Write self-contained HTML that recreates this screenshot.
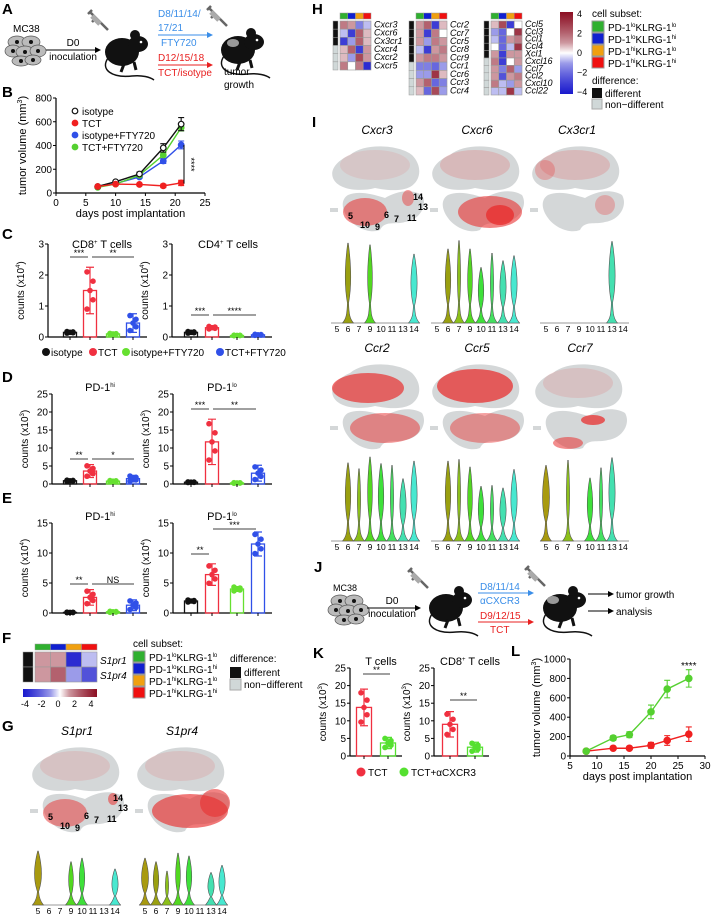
<!DOCTYPE html>
<html><head><meta charset="utf-8">
<style>
html,body{margin:0;padding:0;background:#fff;}
svg{display:block;font-family:"Liberation Sans",Arial,sans-serif;}
.pl{font-weight:bold;font-size:15px;}
.tk{font-size:10px;}
.it{font-style:italic;}
</style></head>
<body>
<svg id="fig" width="712" height="916" viewBox="0 0 712 916" xmlns="http://www.w3.org/2000/svg">
<defs>
<marker id="ab" markerWidth="6" markerHeight="6" refX="5" refY="3" orient="auto"><path d="M0,0 L6,3 L0,6z" fill="#000"/></marker>
<marker id="abl" markerWidth="6" markerHeight="6" refX="5" refY="3" orient="auto"><path d="M0,0 L6,3 L0,6z" fill="#3a8ee8"/></marker>
<marker id="ar" markerWidth="6" markerHeight="6" refX="5" refY="3" orient="auto"><path d="M0,0 L6,3 L0,6z" fill="#e82020"/></marker>
<g id="mouse">
<ellipse cx="20" cy="30" rx="17" ry="14" fill="#111"/>
<ellipse cx="36" cy="22" rx="10" ry="8" fill="#111"/>
<circle cx="33" cy="13" r="5" fill="#111"/>
<circle cx="39" cy="20" r="1.3" fill="#fff"/>
<path d="M6,36 C-2,48 10,56 30,54 C40,53 48,55 52,58" stroke="#111" stroke-width="1.5" fill="none"/>
<path d="M22,42 l-3,8 M32,40 l2,8" stroke="#111" stroke-width="3"/>
</g>
<g id="syringe">
<path d="M0,0 L4,-4 M2,-2 L14,10 M8,4 L4,8 M14,10 L20,16" stroke="#666" stroke-width="2.5" fill="none"/>
<path d="M4,2 L12,10" stroke="#aaa" stroke-width="5"/>
</g>
<g id="cells">
<ellipse cx="10" cy="8" rx="9" ry="6" fill="#bbb" stroke="#555" stroke-width=".7"/>
<ellipse cx="24" cy="8" rx="9" ry="6" fill="#bbb" stroke="#555" stroke-width=".7"/>
<ellipse cx="6" cy="17" rx="8" ry="6" fill="#bbb" stroke="#555" stroke-width=".7"/>
<ellipse cx="18" cy="18" rx="9" ry="6" fill="#bbb" stroke="#555" stroke-width=".7"/>
<ellipse cx="31" cy="17" rx="8" ry="6" fill="#bbb" stroke="#555" stroke-width=".7"/>
<ellipse cx="14" cy="27" rx="9" ry="5" fill="#bbb" stroke="#555" stroke-width=".7"/>
<ellipse cx="26" cy="26" rx="8" ry="5" fill="#bbb" stroke="#555" stroke-width=".7"/>
<circle cx="10" cy="8" r="2" fill="#111"/><circle cx="24" cy="8" r="2" fill="#111"/><circle cx="18" cy="18" r="2" fill="#111"/><circle cx="6" cy="17" r="2" fill="#111"/><circle cx="31" cy="17" r="2" fill="#111"/><circle cx="14" cy="27" r="2" fill="#111"/><circle cx="26" cy="26" r="2" fill="#111"/>
</g>
<g id="blob">
<path d="M20,15 C35,2 70,5 82,15 C92,25 92,40 80,47 C70,52 55,50 45,48 C30,52 10,50 4,40 C-2,30 8,20 20,15z" fill="#d4d7d8"/>
<path d="M18,55 C30,50 45,55 55,58 C65,52 80,48 92,55 C98,65 90,80 75,82 C65,85 55,80 50,90 C40,94 25,88 18,78 C12,70 10,60 18,55z" fill="#d4d7d8"/>
<rect x="0" y="68" width="8" height="4" fill="#d4d7d8"/>
</g>
</defs>

<!-- Panel A -->
<text class="pl" x="2" y="14">A</text>
<text x="13" y="32" font-size="10">MC38</text>
<use href="#cells" x="7" y="34"/>
<line x1="46" y1="50" x2="100" y2="50" stroke="#000" marker-end="url(#ab)"/>
<text x="73" y="46" font-size="10" text-anchor="middle">D0</text>
<text x="73" y="60" font-size="10" text-anchor="middle">inoculation</text>
<use href="#syringe" x="88" y="14"/>
<use href="#mouse" x="102" y="22"/>
<text x="158" y="17" font-size="10" fill="#3a8ee8">D8/11/14/</text>
<text x="158" y="31" font-size="10" fill="#3a8ee8">17/21</text>
<line x1="158" y1="35" x2="212" y2="35" stroke="#3a8ee8" marker-end="url(#abl)"/>
<text x="161" y="46" font-size="10" fill="#3a8ee8">FTY720</text>
<text x="158" y="61" font-size="10" fill="#e82020">D12/15/18</text>
<line x1="158" y1="65" x2="212" y2="65" stroke="#e82020" marker-end="url(#ar)"/>
<text x="158" y="76" font-size="10" fill="#e82020">TCT/isotype</text>
<use href="#syringe" x="207" y="10"/>
<use href="#mouse" x="218" y="20"/>
<ellipse cx="233" cy="43" rx="6" ry="4" fill="#999"/>
<text x="224" y="75" font-size="10">tumor</text>
<text x="224" y="88" font-size="10">growth</text>

<!-- Panel labels -->
<text class="pl" x="2" y="97">B</text>
<text class="pl" x="2" y="239">C</text>
<text class="pl" x="2" y="382">D</text>
<text class="pl" x="2" y="503">E</text>
<text class="pl" x="2" y="643">F</text>
<text class="pl" x="2" y="731">G</text>
<text class="pl" x="312" y="14">H</text>
<text class="pl" x="312" y="127">I</text>
<text class="pl" x="314" y="572">J</text>
<text class="pl" x="313" y="658">K</text>
<text class="pl" x="511" y="656">L</text>

<!-- Panel C legend -->
<g font-size="10">
<circle cx="46" cy="352" r="4" fill="#111"/><text x="51" y="356">isotype</text>
<circle cx="93" cy="352" r="4" fill="#f03040"/><text x="98" y="356">TCT</text>
<circle cx="126" cy="352" r="4" fill="#66e030"/><text x="131" y="356">isotype+FTY720</text>
<circle cx="220" cy="352" r="4" fill="#3050e8"/><text x="225" y="356">TCT+FTY720</text>
</g>

<!-- Panel F legend -->
<text x="133" y="647" font-size="10">cell subset:</text>
<g font-size="10">
<rect x="133" y="651" width="12" height="11" fill="#30b030" stroke="#999"/><text x="149" y="661">PD-1<tspan font-size="6" dy="-4">lo</tspan><tspan dy="4">KLRG-1</tspan><tspan font-size="6" dy="-4">lo</tspan></text>
<rect x="133" y="663" width="12" height="11" fill="#1020d0" stroke="#999"/><text x="149" y="673">PD-1<tspan font-size="6" dy="-4">lo</tspan><tspan dy="4">KLRG-1</tspan><tspan font-size="6" dy="-4">hi</tspan></text>
<rect x="133" y="675" width="12" height="11" fill="#f0a010" stroke="#999"/><text x="149" y="685">PD-1<tspan font-size="6" dy="-4">hi</tspan><tspan dy="4">KLRG-1</tspan><tspan font-size="6" dy="-4">lo</tspan></text>
<rect x="133" y="687" width="12" height="11" fill="#f01010" stroke="#999"/><text x="149" y="697">PD-1<tspan font-size="6" dy="-4">hi</tspan><tspan dy="4">KLRG-1</tspan><tspan font-size="6" dy="-4">hi</tspan></text>
<text x="230" y="662">difference:</text>
<rect x="230" y="667" width="11" height="11" fill="#111"/><text x="244" y="676">different</text>
<rect x="230" y="679" width="11" height="11" fill="#d0d8d8" stroke="#aaa"/><text x="244" y="688">non−different</text>
</g>

<!-- Panel H legend -->
<text x="592" y="17" font-size="10">cell subset:</text>
<g font-size="10">
<rect x="592" y="21" width="12" height="11" fill="#30b030" stroke="#999"/><text x="608" y="31">PD-1<tspan font-size="6" dy="-4">lo</tspan><tspan dy="4">KLRG-1</tspan><tspan font-size="6" dy="-4">lo</tspan></text>
<rect x="592" y="33" width="12" height="11" fill="#1020d0" stroke="#999"/><text x="608" y="43">PD-1<tspan font-size="6" dy="-4">lo</tspan><tspan dy="4">KLRG-1</tspan><tspan font-size="6" dy="-4">hi</tspan></text>
<rect x="592" y="45" width="12" height="11" fill="#f0a010" stroke="#999"/><text x="608" y="55">PD-1<tspan font-size="6" dy="-4">hi</tspan><tspan dy="4">KLRG-1</tspan><tspan font-size="6" dy="-4">lo</tspan></text>
<rect x="592" y="57" width="12" height="11" fill="#f01010" stroke="#999"/><text x="608" y="67">PD-1<tspan font-size="6" dy="-4">hi</tspan><tspan dy="4">KLRG-1</tspan><tspan font-size="6" dy="-4">hi</tspan></text>
<text x="592" y="84">difference:</text>
<rect x="592" y="88" width="10" height="10" fill="#111"/><text x="605" y="97">different</text>
<rect x="592" y="99" width="10" height="10" fill="#d0d8d8" stroke="#aaa"/><text x="605" y="108">non−different</text>
</g>

<!-- Panel J -->
<text x="333" y="591" font-size="9">MC38</text>
<use href="#cells" x="330" y="593"/>
<line x1="367" y1="608" x2="420" y2="608" stroke="#000" marker-end="url(#ab)"/>
<text x="392" y="604" font-size="10" text-anchor="middle">D0</text>
<text x="392" y="617" font-size="10" text-anchor="middle">inoculation</text>
<use href="#syringe" x="408" y="572"/>
<use href="#mouse" x="426" y="578"/>
<text x="480" y="590" font-size="10" fill="#3a8ee8">D8/11/14</text>
<line x1="478" y1="593" x2="533" y2="593" stroke="#3a8ee8" marker-end="url(#abl)"/>
<text x="480" y="604" font-size="10" fill="#3a8ee8">αCXCR3</text>
<text x="480" y="619" font-size="10" fill="#e82020">D9/12/15</text>
<line x1="478" y1="622" x2="533" y2="622" stroke="#e82020" marker-end="url(#ar)"/>
<text x="490" y="633" font-size="10" fill="#e82020">TCT</text>
<use href="#syringe" x="525" y="570"/>
<use href="#mouse" x="540" y="578"/>
<ellipse cx="553" cy="600" rx="6" ry="4" fill="#999"/>
<line x1="588" y1="594" x2="613" y2="594" stroke="#000" marker-end="url(#ab)"/>
<line x1="588" y1="611" x2="613" y2="611" stroke="#000" marker-end="url(#ab)"/>
<text x="616" y="598" font-size="10">tumor growth</text>
<text x="616" y="615" font-size="10">analysis</text>

<!-- Panel K legend -->
<g font-size="10">
<circle cx="361" cy="772" r="4.5" fill="#f03040"/><text x="368" y="776">TCT</text>
<circle cx="404" cy="772" r="4.5" fill="#55e030"/><text x="411" y="776">TCT+αCXCR3</text>
</g>
</svg>

<script>
const NS='http://www.w3.org/2000/svg';
const svg=document.getElementById('fig');
function mk(tag,attrs,parent,txt){const e=document.createElementNS(NS,tag);for(const k in attrs)e.setAttribute(k,attrs[k]);if(txt!==undefined)e.textContent=txt;(parent||svg).appendChild(e);return e;}

// ---------- Panel B data ----------
const bDays=[7,10,14,18,21];
const bIsotype=[55,95,160,380,580];
const bTCT=[55,75,72,60,85];
const bIsoFTY=[50,80,135,270,405];
const bTCTFTY=[48,75,150,320,550];
const bErr=[8,10,15,35,55];
const bXTicks=[0,5,10,15,20,25];
const bYTicks=[0,200,400,600,800];

// ---------- Panel C/D/E data ----------
const groupColors=['#111111','#f03040','#66e030','#3050e8'];
const cCD8Means=[0.15,1.5,0.1,0.45];
const cCD8Sd=[0.03,0.75,0.02,0.3];
const cCD4Means=[0.15,0.3,0.05,0.07];
const cCD4Sd=[0.03,0.05,0.01,0.02];
const dHiMeans=[0.9,3.6,0.8,1.5];
const dHiSd=[0.2,1.8,0.2,0.9];
const dLoMeans=[0.5,11.7,0.3,3.0];
const dLoSd=[0.1,6.3,0.1,2.2];
const eHiMeans=[0.1,2.6,0.2,1.3];
const eHiSd=[0.05,1.3,0.1,0.9];
const eLoMeans=[2.0,6.4,4.0,11.5];
const eLoSd=[0.2,1.8,0.4,2.0];
const cTicks=[0,1,2,3];
const dTicks=[0,5,10,15,20,25];
const eTicks=[0,5,10,15];

// ---------- Panel K/L data ----------
const kTMeans=[13.8,3.7];
const kTSd=[5.2,1.6];
const kCD8Means=[9.0,2.5];
const kCD8Sd=[3.6,1.4];
const kTicks=[0,5,10,15,20,25];
const lDays=[8,13,16,20,23,27];
const lTCT=[50,80,80,110,160,225];
const lTCTa=[50,185,220,455,690,800];
const lErrR=[10,12,12,30,50,75];
const lErrG=[10,25,30,70,90,90];
const lXTicks=[5,10,15,20,25,30];
const lYTicks=[0,200,400,600,800,1000];

// ---------- Heatmap data ----------
const hGenes1=['Cxcr3','Cxcr6','Cx3cr1','Cxcr4','Cxcr2','Cxcr5'];
const hVals1=[[1.5,1,-1.5,-0.5],[-0.5,-3,2,0.5],[-3,-1,2,0.5],[0.5,2,-3,1],[0.5,-1,2.5,1],[1.5,0,1.5,-3.5]];
const hDiff1=[1,1,1,0,0,0];
const hGenes2=['Ccr2','Ccr7','Ccr5','Ccr8','Ccr9','Ccr1','Ccr6','Ccr3','Ccr4'];
const hVals2=[[1,2,-3,0.5],[1,-3,1.5,0],[1,-1,1.5,1],[-0.5,-3,1,1.5],[1,1.5,1.5,1],[-1.5,-1.5,-2,-1],[-1,-1,3,0.5],[1,2,-2,-1.5],[0.5,-2,2.5,-1]];
const hDiff2=[1,1,1,1,1,0,0,0,0];
const hGenes3=['Ccl5','Ccl3','Ccl1','Ccl4','Xcl1','Cxcl16','Ccl7','Ccl2','Cxcl10','Ccl22'];
const hVals3=[[0.5,2.5,-3,0],[-1,-2,0,3],[-0.5,-2,1,1.5],[0,-2,-0.5,3],[1,-3,1,1],[1.5,-3,0,1],[1,-1.5,2,-1],[1,-2.5,1,1.5],[1.5,-0.5,-1,1],[-0.5,-0.5,3,-0.5]];
const hDiff3=[1,1,1,1,1,0,0,0,0,0];
const fGenes=['S1pr1','S1pr4'];
const fVals=[[1,1,-3.5,-0.5],[1,2,-1,-2.5]];
const fDiff=[1,1];
const subsetColors=['#30b030','#1020d0','#f0a010','#f01010'];

// ---------- Violin data (cluster order 5,6,7,9,10,11,13,14), heights 0..1 ----------
const clusters=['5','6','7','9','10','11','13','14'];
const vS1pr1=[0.75,0,0,0.6,0.65,0,0,0.5];
const vS1pr4=[0.65,0.6,0.47,0.72,0.68,0,0.45,0.55];
const vCxcr3=[0,0.95,0,0.93,0,0,0,0.82];
const vCxcr6=[0,0.88,0.98,0.88,0.66,0.83,0.74,0.8];
const vCx3cr1=[0,0,0,0,0,0,0.97,0];
const vCcr2=[0,0.93,0.86,1.0,0.92,0.9,0.74,0.95];
const vCcr5=[0,0.95,0.97,0.88,0.65,0.66,0.63,0.85];
const vCcr7=[0.9,0,0.96,0,0.75,0.87,0.99,0];
const vBulge=[0.9,0.7,0.4,0.6,0.7,0.4,0.8,0.8];
const clusterColors=['#a89a10','#9aa010','#8cc01a','#52d820','#3ee03a','#44e060','#44e0b0','#48e8d0'];

// ---------- helpers ----------
function lin(d0,d1,r0,r1){return v=>r0+(v-d0)*(r1-r0)/(d1-d0);}
function yAxis(x,y0,y1,ticks,sc,g){
  const a=mk('line',{x1:x,y1:y0,x2:x,y2:y1,stroke:'#000','stroke-width':1.2},g);
  
  
  ticks.forEach(t=>{const y=sc(t);
    const l=mk('line',{x1:x-3,y1:y,x2:x,y2:y,stroke:'#000'},g);
    
    
    const tx=mk('text',{x:x-4,y:y+3.5,'text-anchor':'end','font-size':10},g,t);
    
    });
}
function xAxis(y,x0,x1,ticks,sc,g){
  const a=mk('line',{x1:x0,y1:y,x2:x1,y2:y,stroke:'#000','stroke-width':1.2},g);
  
  
  ticks.forEach(t=>{const x=sc(t);
    const l=mk('line',{x1:x,y1:y,x2:x,y2:y+3,stroke:'#000'},g);
    
    
    const tx=mk('text',{x:x,y:y+13,'text-anchor':'middle','font-size':10},g,t);
    
    });
}
function vtitle(x,y,txt,sup,g){
  const t=mk('text',{x:0,y:0,'font-size':10,'text-anchor':'middle',transform:`translate(${x},${y}) rotate(-90)`},g);
  
  
  t.innerHTML=txt+(sup?`<tspan font-size="6" dy="-4">${sup}</tspan><tspan dy="4">)</tspan>`:'');
}
function sig(x1,x2,y,txt,g){
  const l=mk('line',{x1,y1:y,x2,y2:y,stroke:'#000','stroke-width':0.8},g);
  
  
  const t=mk('text',{x:(x1+x2)/2,y:y-1,'text-anchor':'middle','font-size':9},g,txt);
  
  
}

function barChart(o){
  const g=mk('g',{});
  
  
  const sc=lin(0,o.max,o.y0,o.yTop);
  yAxis(o.ax,o.y0,o.yTop,o.ticks,sc,g);
  const xa=mk('line',{x1:o.ax,y1:o.y0,x2:o.xs[o.xs.length-1]+14,y2:o.y0,stroke:'#000','stroke-width':1.2},g);
  
  
  o.means.forEach((m,i)=>{
    const x=o.xs[i],c=o.colors[i],w=o.bw||13;
    const r=mk('rect',{x:x-w/2,y:sc(m),width:w,height:o.y0-sc(m),fill:'none',stroke:c,'stroke-width':1.3},g);
    
    
    const e=mk('path',{d:`M${x},${sc(m)} V${sc(m+o.sd[i])} M${x-4},${sc(m+o.sd[i])} H${x+4} M${x},${sc(m)} V${sc(Math.max(0,m-o.sd[i]))} M${x-4},${sc(Math.max(0,m-o.sd[i]))} H${x+4}`,stroke:c,'stroke-width':1.2,fill:'none'},g);
    
    
    const offs=[-0.8,-0.4,0,0.4,0.8];
    offs.forEach((f,j)=>{
      const v=Math.max(0,m+f*o.sd[i]);
      const d=mk('circle',{cx:x+(j%2?3:-3)*(j===2?0:1),cy:sc(v),r:2.8,fill:c},g);
      
      
    });
    const tk=mk('line',{x1:x,y1:o.y0,x2:x,y2:o.y0+3,stroke:'#000'},g);
    
    
  });
  if(o.title){const t=mk('text',{x:o.tx,y:o.ty,'text-anchor':'middle','font-size':11},g);
    
    
    t.innerHTML=o.title;}
  vtitle(o.ax-24,(o.y0+o.yTop)/2,o.ylab,o.sup,g);
  (o.sigs||[]).forEach(s=>sig(s[0],s[1],s[2],s[3],g));
}

// Panel C
barChart({name:'cd8-chart',ax:48,y0:337,yTop:244,max:3,ticks:cTicks,xs:[70,90,113,133],means:cCD8Means,sd:cCD8Sd,colors:groupColors,title:'CD8<tspan font-size="6" dy="-4">+</tspan><tspan dy="4"> T cells</tspan>',tx:102,ty:248,ylab:'counts (x10',sup:'4',sigs:[[70,88,257,'***'],[92,134,257,'**']]});
barChart({name:'cd4-chart',ax:172,y0:337,yTop:244,max:3,ticks:cTicks,xs:[191,212,237,258],means:cCD4Means,sd:cCD4Sd,colors:groupColors,title:'CD4<tspan font-size="6" dy="-4">+</tspan><tspan dy="4"> T cells</tspan>',tx:228,ty:248,ylab:'counts (x10',sup:'4',sigs:[[191,209,315,'***'],[213,256,315,'****']]});
// Panel D
barChart({name:'pd1hi-count-chart-d',ax:52,y0:484,yTop:394,max:25,ticks:dTicks,xs:[70,90,113,133],means:dHiMeans,sd:dHiSd,colors:groupColors,title:'PD-1<tspan font-size="6" dy="-4">hi</tspan>',tx:100,ty:391,ylab:'counts (x10',sup:'3',sigs:[[70,88,459,'**'],[92,134,459,'*']]});
barChart({name:'pd1lo-count-chart-d',ax:173,y0:484,yTop:394,max:25,ticks:dTicks,xs:[191,212,237,258],means:dLoMeans,sd:dLoSd,colors:groupColors,title:'PD-1<tspan font-size="6" dy="-4">lo</tspan>',tx:222,ty:391,ylab:'counts (x10',sup:'3',sigs:[[191,209,409,'***'],[213,256,409,'**']]});
// Panel E
barChart({name:'pd1hi-count-chart-e',ax:52,y0:613,yTop:523,max:15,ticks:eTicks,xs:[70,90,113,133],means:eHiMeans,sd:eHiSd,colors:groupColors,title:'PD-1<tspan font-size="6" dy="-4">hi</tspan>',tx:100,ty:520,ylab:'counts (x10',sup:'4',sigs:[[70,88,584,'**'],[92,134,584,'NS']]});
barChart({name:'pd1lo-count-chart-e',ax:173,y0:613,yTop:523,max:15,ticks:eTicks,xs:[191,212,237,258],means:eLoMeans,sd:eLoSd,colors:groupColors,title:'PD-1<tspan font-size="6" dy="-4">lo</tspan>',tx:222,ty:520,ylab:'counts (x10',sup:'4',sigs:[[191,209,554,'**'],[213,256,529,'***']]});
// Panel K
barChart({name:'t-cells-chart-k',ax:350,y0:756,yTop:668,max:25,ticks:kTicks,xs:[364,388],means:kTMeans,sd:kTSd,colors:['#f03040','#55e030'],bw:15,title:'T cells',tx:381,ty:665,ylab:'counts (x10',sup:'3',sigs:[[363,390,674,'**']]});
barChart({name:'cd8-cells-chart-k',ax:434,y0:756,yTop:668,max:25,ticks:kTicks,xs:[450,475],means:kCD8Means,sd:kCD8Sd,colors:['#f03040','#55e030'],bw:15,title:'CD8<tspan font-size="6" dy="-4">+</tspan><tspan dy="4"> T cells</tspan>',tx:470,ty:665,ylab:'counts (x10',sup:'3',sigs:[[450,477,700,'**']]});

// Line charts
function lineChart(o){
  const g=mk('g',{});
  
  
  const sx=lin(o.xd[0],o.xd[1],o.x0,o.x1), sy=lin(0,o.ymax,o.y0,o.yTop);
  yAxis(o.x0,o.y0,o.yTop,o.yticks,sy,g);
  xAxis(o.y0,o.x0,o.x1,o.xticks,sx,g);
  o.series.forEach(s=>{
    const p=mk('polyline',{points:o.days.map((d,i)=>sx(d)+','+sy(s.v[i])).join(' '),fill:'none',stroke:s.c,'stroke-width':1.4},g);
    
    
    o.days.forEach((d,i)=>{
      if(s.e){const e=mk('path',{d:`M${sx(d)},${sy(s.v[i]-s.e[i])} V${sy(s.v[i]+s.e[i])} M${sx(d)-3},${sy(s.v[i]+s.e[i])} h6 M${sx(d)-3},${sy(s.v[i]-s.e[i])} h6`,stroke:s.c,'stroke-width':1.1},g);
        
        }
      const c=mk('circle',{cx:sx(d),cy:sy(s.v[i]),r:s.r||2.8,fill:s.open?'#fff':s.c,stroke:s.c,'stroke-width':1.2},g);
      
      
    });
  });
  const xt=mk('text',{x:(o.x0+o.x1)/2,y:o.y0+24,'text-anchor':'middle','font-size':11},g,'days post implantation');
  
  
  const t=mk('text',{x:0,y:0,'font-size':11,'text-anchor':'middle',transform:`translate(${o.x0-30},${(o.y0+o.yTop)/2}) rotate(-90)`},g);
  
  
  t.innerHTML='tumor volume (mm<tspan font-size="7" dy="-4">3</tspan><tspan dy="4">)</tspan>';
  return {sx,sy,g};
}
const B=lineChart({name:'tumor-growth-chart-b',x0:56,x1:205,y0:193,yTop:98,xd:[0,25],ymax:800,xticks:bXTicks,yticks:bYTicks,days:bDays,series:[
 {n:'isotype-fty720',v:bIsoFTY,c:'#3050e8',e:bErr.map(x=>x*0.6)},
 {n:'tct-fty720',v:bTCTFTY,c:'#55d030',e:bErr.map(x=>x*0.5)},
 {n:'isotype',v:bIsotype,c:'#111',open:true,e:bErr},
 {n:'tct',v:bTCT,c:'#f02020',e:bErr.map(x=>x*0.4)}]});
const sb=mk('line',{x1:184,y1:B.sy(405),x2:184,y2:B.sy(80),stroke:'#000'},B.g);


const st=mk('text',{x:0,y:0,'font-size':9,transform:`translate(188,${B.sy(240)}) rotate(90)`,'text-anchor':'middle'},B.g,'****');


[['isotype','#111',true],['TCT','#f02020'],['isotype+FTY720','#3050e8'],['TCT+FTY720','#55d030']].forEach((l,i)=>{
  const c=mk('circle',{cx:75,cy:111+i*12,r:2.8,fill:l[2]?'#fff':l[1],stroke:l[1],'stroke-width':1.2},B.g);
  
  
  const t=mk('text',{x:82,y:115+i*12,'font-size':10},B.g,l[0]);
  
  
});
const L=lineChart({name:'tumor-growth-chart-l',x0:570,x1:705,y0:756,yTop:659,xd:[5,30],ymax:1000,xticks:lXTicks,yticks:lYTicks,days:lDays,series:[
 {n:'tct',v:lTCT,c:'#f02020',e:lErrR,r:3.2},{n:'tct-acxcr3',v:lTCTa,c:'#55d030',e:lErrG,r:3.2}]});
const lt=mk('text',{x:L.sx(27),y:669,'font-size':10,'text-anchor':'middle'},L.g,'****');



// Heatmaps
function col(v){const t=Math.pow(Math.min(1,Math.abs(v)/4),0.6);
  if(v>=0){return `rgb(${Math.round(255-t*115)},${Math.round(255-t*240)},${Math.round(255-t*220)})`;}
  return `rgb(${Math.round(255-t*230)},${Math.round(255-t*230)},${Math.round(255-t*50)})`;}
function heat(o){
  const g=mk('g',{});
  
  
  const cw=o.w/4,rh=o.h/o.genes.length;
  subsetColors.forEach((c,j)=>{const r=mk('rect',{x:o.x+j*cw,y:o.y-8,width:cw,height:6,fill:c,stroke:'#999','stroke-width':.5},g);
    
    });
  o.genes.forEach((gn,i)=>{
    const d=mk('rect',{x:o.x-o.dw-2,y:o.y+i*rh,width:o.dw,height:rh,fill:o.diff[i]?'#111':'#d0d8d8',stroke:'#999','stroke-width':.5},g);
    
    
    o.vals[i].forEach((v,j)=>{const r=mk('rect',{x:o.x+j*cw,y:o.y+i*rh,width:cw,height:rh,fill:col(v),stroke:'#999','stroke-width':.6},g);
      
      });
    const t=mk('text',{x:o.x+o.w+3,y:o.y+i*rh+rh*0.8,'font-size':o.fs||9,'font-style':'italic'},g,gn);
    
    
  });
}
heat({name:'heatmap-cxcr',x:340,y:21,w:31,h:49,dw:5,genes:hGenes1,vals:hVals1,diff:hDiff1,fs:9});
heat({name:'heatmap-ccr',x:416,y:21,w:31,h:74,dw:5,genes:hGenes2,vals:hVals2,diff:hDiff2,fs:9});
heat({name:'heatmap-ccl',x:491,y:21,w:31,h:74,dw:5,genes:hGenes3,vals:hVals3,diff:hDiff3,fs:9});
heat({name:'heatmap-s1pr',x:35,y:652,w:62,h:30,dw:10,genes:fGenes,vals:fVals,diff:fDiff,fs:10});

// colorbars
const grad=mk('linearGradient',{id:'gv',x1:0,y1:1,x2:0,y2:0},svg.querySelector('defs'));
const gradH=mk('linearGradient',{id:'gh',x1:0,y1:0,x2:1,y2:0},svg.querySelector('defs'));
[-4,-3,-2,-1,0,1,2,3,4].forEach(v=>{const p=(v+4)/8*100+'%';mk('stop',{offset:p,'stop-color':col(v)},grad);mk('stop',{offset:p,'stop-color':col(v)},gradH);});
const cbv=mk('rect',{x:560,y:12,width:13,height:82,fill:'url(#gv)'});


[4,2,0,-2,-4].forEach((v,i)=>{const t=mk('text',{x:577,y:17+i*19.5,'font-size':9},svg,(v<0?'−':'')+Math.abs(v));
  
  });
const cbh=mk('rect',{x:23,y:689,width:74,height:8,fill:'url(#gh)'});


[-4,-2,0,2,4].forEach((v,i)=>{const t=mk('text',{x:25+i*16.5,y:707,'font-size':9,'text-anchor':'middle'},svg,v);
  
  });

// tSNE plots
function tsne(x,y,name,title,patches,numbers){
  const g=mk('g',{});
  
  
  const u=mk('use',{href:'#blob',x:x,y:y},g);
  
  
  patches.forEach(p=>{const e=mk('ellipse',{cx:x+p[0],cy:y+p[1],rx:p[2],ry:p[3],fill:'#e83030','fill-opacity':p[4]},g);
    
    });
  const t=mk('text',{x:x+47,y:y-6,'text-anchor':'middle','font-size':12,'font-style':'italic'},g,title);
  
  
  if(numbers){[['14',83,60],['13',88,70],['5',18,79],['6',54,78],['7',64,82],['11',77,81],['10',30,88],['9',45,90]].forEach(n=>{
    const tt=mk('text',{x:x+n[1],y:y+n[2],'font-size':9,'font-weight':'bold'},g,n[0]);
    
    });}
}
const pS1=[[35,72,22,14,.5],[83,58,5,6,.55],[45,25,35,15,.12]];
const pS4=[[55,70,38,17,.65],[80,62,15,14,.6],[45,25,35,15,.12]];
const pX3=[[35,72,22,14,.55],[78,58,6,8,.45],[45,25,35,15,.1]];
const pX6=[[60,72,32,16,.6],[70,75,14,10,.8],[45,25,35,15,.18]];
const pCx3=[[45,25,35,15,.18],[75,65,10,10,.28],[15,30,10,10,.28]];
const pCcr2=[[38,30,36,15,.7],[55,70,35,15,.5]];
const pCcr5=[[45,28,38,17,.75],[55,70,35,15,.45]];
const pCcr7=[[45,25,35,15,.13],[60,62,12,5,.75],[35,85,15,6,.55]];
tsne(30,741,'tsne-s1pr1','S1pr1',pS1,true);
tsne(135,741,'tsne-s1pr4','S1pr4',pS4,false);
tsne(330,140,'tsne-cxcr3','Cxcr3',pX3,true);
tsne(430,140,'tsne-cxcr6','Cxcr6',pX6,false);
tsne(530,140,'tsne-cx3cr1','Cx3cr1',pCx3,false);
tsne(330,358,'tsne-ccr2','Ccr2',pCcr2,false);
tsne(430,358,'tsne-ccr5','Ccr5',pCcr5,false);
tsne(533,358,'tsne-ccr7','Ccr7',pCcr7,false);

// Violins
function violins(x0,base,maxH,vals,name,step){
  const g=mk('g',{});
  
  
  const bl=mk('line',{x1:x0-6,y1:base,x2:x0+7*step+6,y2:base,stroke:'#999'},g);
  
  
  vals.forEach((v,i)=>{
    const cx=x0+i*step;
    if(v>0){const h=v*maxH,w=5*vBulge[i];
      const d=`M${cx-5.5},${base} C${cx-2},${base-4} ${cx-1},${base-8} ${cx-0.6},${base-h*0.25} C${cx-w},${base-h*0.45} ${cx-w},${base-h*0.7} ${cx-0.3},${base-h} L${cx+0.3},${base-h} C${cx+w},${base-h*0.7} ${cx+w},${base-h*0.45} ${cx+0.6},${base-h*0.25} C${cx+1},${base-8} ${cx+2},${base-4} ${cx+5.5},${base} Z`;
      const p=mk('path',{d,fill:clusterColors[i],stroke:'#555','stroke-width':.6},g);
      
      }
    const t=mk('text',{x:cx,y:base+9,'font-size':8.5,'text-anchor':'middle'},g,clusters[i]);
    
    
  });
}
violins(38,905,72,vS1pr1,'violin-s1pr1',11);
violins(145,905,72,vS1pr4,'violin-s1pr4',11);
violins(337,323,84,vCxcr3,'violin-cxcr3',11);
violins(437,323,84,vCxcr6,'violin-cxcr6',11);
violins(546,323,84,vCx3cr1,'violin-cx3cr1',11);
violins(337,541,84,vCcr2,'violin-ccr2',11);
violins(437,541,84,vCcr5,'violin-ccr5',11);
violins(546,541,84,vCcr7,'violin-ccr7',11);
</script>
</body></html>
